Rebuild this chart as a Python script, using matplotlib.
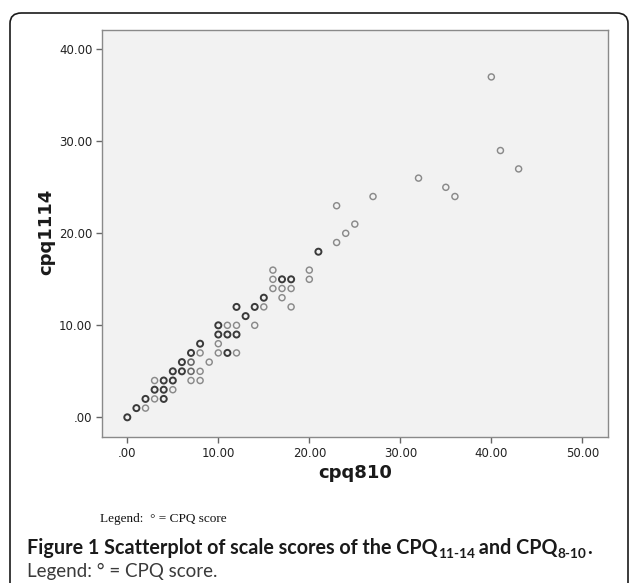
import matplotlib
matplotlib.use("Agg")
import matplotlib.pyplot as plt
from matplotlib.patches import FancyBboxPatch
from matplotlib.transforms import IdentityTransform

# ---- data (cpq810 vs cpq1114); n = relative overlap (darker ring = more cases)
cpq810 = [0, 1, 2, 2, 3, 4, 3, 4, 5, 3, 4, 5, 5, 6, 7, 8, 7, 8, 6, 7, 9, 7, 8, 8,
          10, 11, 12, 10, 10, 11, 12, 10, 11, 12, 13, 14, 12, 14, 15, 15,
          16, 17, 18, 17, 18, 16, 17, 18, 16, 20, 20, 21, 23, 24, 25, 23, 27,
          32, 35, 36, 41, 43, 40]
cpq1114 = [0, 1, 1, 2, 2, 2, 3, 3, 3, 4, 4, 4, 5, 5, 5, 5, 4, 4, 6, 6, 6, 7, 7, 8,
           7, 7, 7, 8, 9, 9, 9, 10, 10, 10, 11, 10, 12, 12, 12, 13,
           14, 14, 14, 13, 12, 15, 15, 15, 16, 15, 16, 18, 19, 20, 21, 23, 24,
           26, 25, 24, 29, 27, 37]
n_cases = [3, 3, 1, 3, 1, 3, 3, 3, 1, 1, 3, 3, 3, 3, 2, 1, 1, 1, 3, 2, 1, 3, 1, 3,
           1, 3, 1, 1, 3, 3, 3, 3, 1, 1, 3, 1, 3, 3, 1, 3,
           1, 1, 1, 1, 1, 1, 3, 3, 1, 1, 1, 3, 1, 1, 1, 1, 1,
           1, 1, 1, 1, 1, 1]
xticks = [0, 10, 20, 30, 40, 50]
yticks = [0, 10, 20, 30, 40]
tick_labels_x = [".00", "10.00", "20.00", "30.00", "40.00", "50.00"]
tick_labels_y = [".00", "10.00", "20.00", "30.00", "40.00"]

W, H = 631, 583
fig = plt.figure(figsize=(W / 100, H / 100), dpi=100)
fig.patch.set_facecolor("white")

# rounded outer box
box = FancyBboxPatch((10 / W, -0.05), (628 - 10) / W, (H - 13) / H + 0.05,
                     boxstyle="round,pad=0,rounding_size=0.018",
                     transform=fig.transFigure, facecolor="none",
                     edgecolor="#1a1a1a", linewidth=1.2, clip_on=False)
fig.patches.append(box)

ax = fig.add_axes([102 / W, 1 - 437 / H, (608 - 102) / W, (437 - 30) / H])
ax.set_facecolor("#f2f2f2")
ax.set_xlim(-2.78, 52.82)
ax.set_ylim(-2.14, 42.1)

col_map = {1: "#8a8a8a", 2: "#666666", 3: "#3a3a3a"}
lw_map = {1: 1.05, 2: 1.15, 3: 1.4}
for k in (1, 2, 3):
    xs = [x for x, c in zip(cpq810, n_cases) if c == k]
    ys = [y for y, c in zip(cpq1114, n_cases) if c == k]
    ax.scatter(xs, ys, s=19, facecolors="none", edgecolors=col_map[k],
               linewidths=lw_map[k], zorder=3)

for sp in ax.spines.values():
    sp.set_color("#8a8a8a")
    sp.set_linewidth(1.0)
ax.set_xticks(xticks)
ax.set_xticklabels(tick_labels_x)
ax.set_yticks(yticks)
ax.set_yticklabels(tick_labels_y)
ax.tick_params(direction="out", length=4, width=1, color="#666666",
               labelsize=8.5, labelcolor="#222222", pad=3)

fig.text(355 / W, 1 - 473 / H, "cpq810", ha="center", va="center",
         fontsize=13, fontweight="bold", color="#1a1a1a")
fig.text(46 / W, 1 - 232 / H, "cpq1114", ha="center", va="center",
         rotation=90, fontsize=13, fontweight="bold", color="#1a1a1a")

fig.text(100 / W, 1 - 519 / H, "Legend:  \u00b0 = CPQ score", ha="left",
         va="center", fontsize=9.5, family="Liberation Serif", color="#111111")

# caption with subscripts, laid out piece by piece
renderer = fig.canvas.get_renderer()
def seq_text(x, y, parts, family, weight, color):
    for s, size, dy in parts:
        t = fig.text(x, H - y - dy, s, transform=IdentityTransform(), ha="left",
                     va="baseline", fontsize=size, family=family,
                     fontweight=weight, color=color)
        x += t.get_window_extent(renderer).width

cap_fs = 14.2
sub_fs = 9.8
seq_text(27, 554, [("Figure 1 Scatterplot of scale scores of the CPQ", cap_fs, 0),
                   ("11-14", sub_fs, 4),
                   (" and CPQ", cap_fs, 0),
                   ("8-10", sub_fs, 4),
                   (".", cap_fs, 0)],
         "Lato", "bold", "#1a1a1a")
seq_text(27, 577, [("Legend: \u00b0 = CPQ score.", 13.5, 0)],
         "Lato", "normal", "#3a3a3a")

fig.savefig("out.png", dpi=100, facecolor="white")
